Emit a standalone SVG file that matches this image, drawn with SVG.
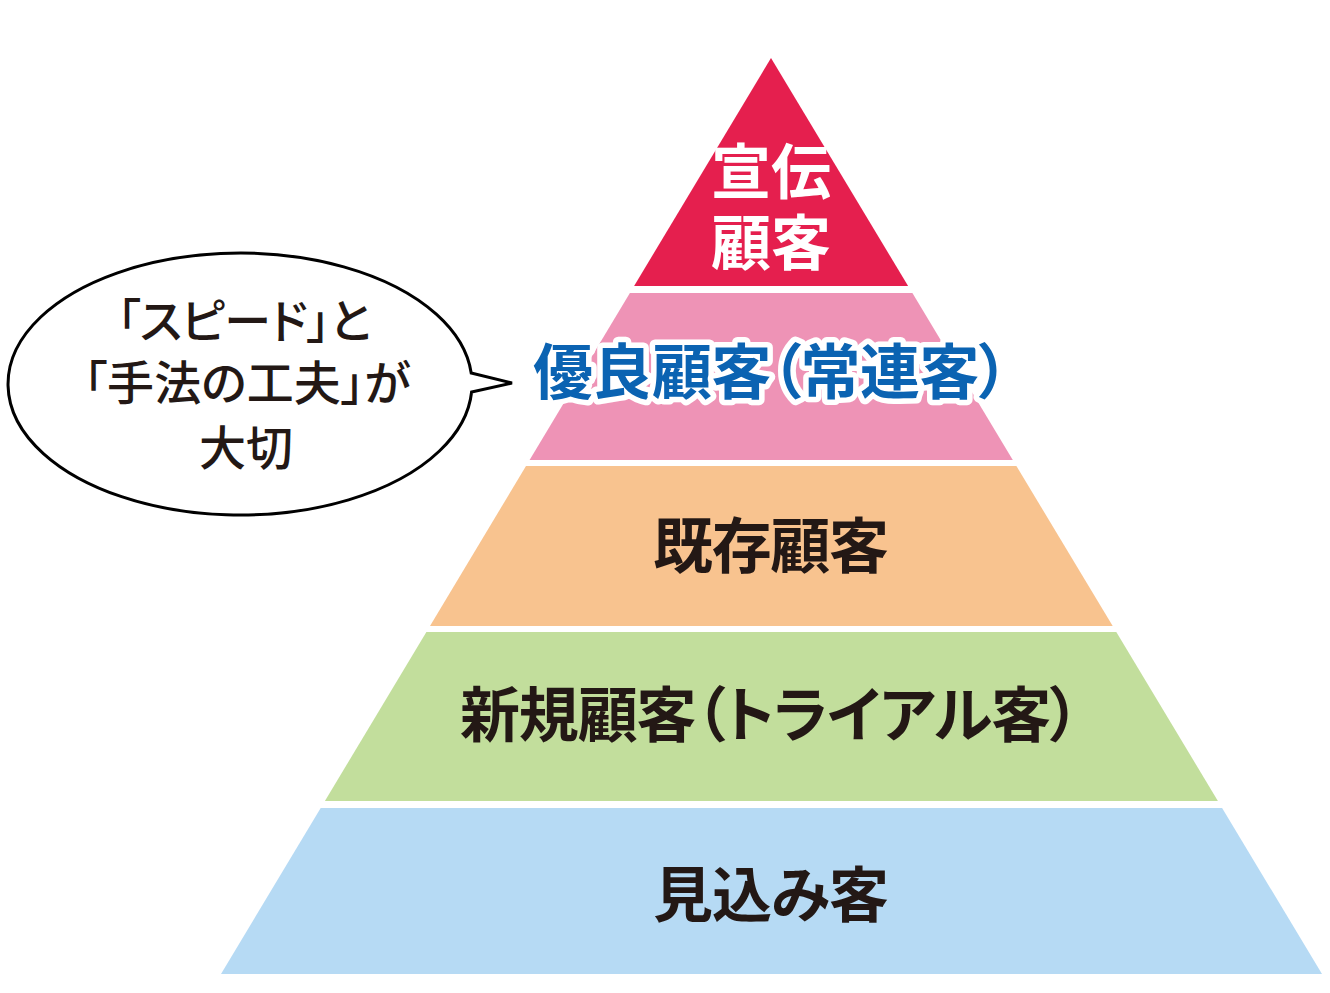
<svg xmlns="http://www.w3.org/2000/svg" width="1330" height="993" viewBox="0 0 1330 993">
<style>
.lbl{font-family:"Noto Sans CJK JP","Noto Sans CJK SC",sans-serif;font-weight:700;font-size:60px;text-anchor:middle;font-feature-settings:"palt";}
.dark{fill:#231815;}
.white{fill:#ffffff;}
.blue{fill:#0B63B2;stroke:#ffffff;stroke-width:11px;stroke-linejoin:round;paint-order:stroke;}
.bal{font-family:"Noto Sans CJK JP","Noto Sans CJK SC",sans-serif;font-weight:500;font-size:47px;text-anchor:middle;fill:#231815;font-feature-settings:"palt";}
</style>
<rect x="0" y="0" width="1330" height="993" fill="#ffffff"/>
<g id="layer-blue">
<polygon points="320.7,808 1222.1,808 1322,974 221,974" fill="#B6DAF4"/>
<text class="lbl dark" x="771" y="917" textLength="236" lengthAdjust="spacing">見込み客</text>
</g>
<g id="layer-green">
<polygon points="426.4,632 1116.3,632 1217.9,801 324.9,801" fill="#C2DE9C"/>
<text class="lbl dark" x="770" y="737" textLength="620" lengthAdjust="spacing">新規顧客（トライアル客）</text>
</g>
<g id="layer-orange">
<polygon points="526,466 1016.4,466 1112.7,626 430,626" fill="#F8C38F"/>
<text class="lbl dark" x="771" y="568" textLength="236" lengthAdjust="spacing">既存顧客</text>
</g>
<g id="layer-pink">
<polygon points="629.9,293 912.4,293 1012.8,460 529.6,460" fill="#EE93B6"/>
<text class="lbl blue" x="771" y="394" textLength="476" lengthAdjust="spacing">優良顧客（常連客）</text>
</g>
<g id="layer-red">
<polygon points="771,58 908.1,286 634.1,286" fill="#E51F4E"/>
<text class="lbl white"><tspan x="771" y="194" textLength="120" lengthAdjust="spacing">宣伝</tspan><tspan x="771" y="265" textLength="120" lengthAdjust="spacing">顧客</tspan></text>
</g>
<g id="balloon">
<path d="M471.2,373 A232,131 0 1 0 471.6,392 L512,383 Z" fill="#ffffff" stroke="#000000" stroke-width="3" stroke-linejoin="miter"/>
<text class="bal"><tspan x="244" y="338" textLength="254" lengthAdjust="spacing">「スピード」と</tspan><tspan x="247" y="400" textLength="327" lengthAdjust="spacing">「手法の工夫」が</tspan><tspan x="246" y="465" textLength="94" lengthAdjust="spacing">大切</tspan></text>
</g>
</svg>
